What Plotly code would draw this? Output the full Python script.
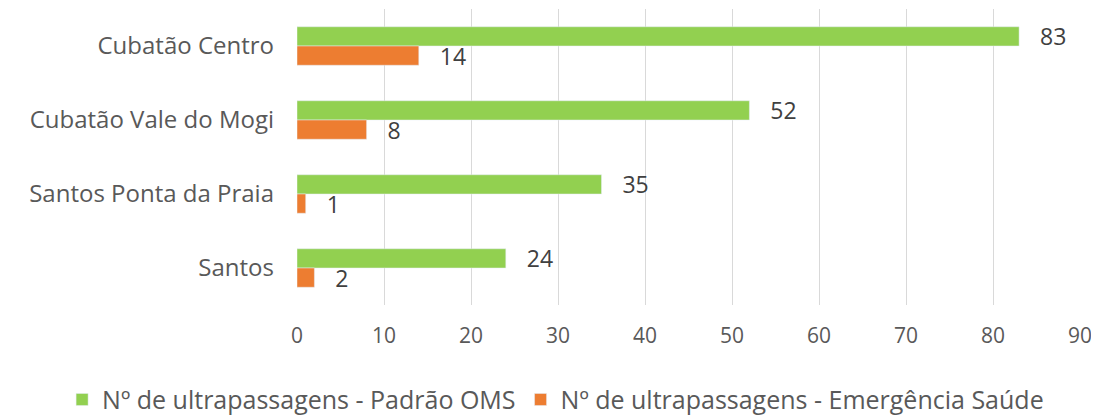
import plotly.graph_objects as go

categories = ["Cubatão Centro", "Cubatão Vale do Mogi", "Santos Ponta da Praia", "Santos"]
padrao_oms = [83, 52, 35, 24]
emergencia = [14, 8, 1, 2]
series_names = ["Nº de ultrapassagens - Padrão OMS", "Nº de ultrapassagens - Emergência Saúde"]
x_ticks = [0, 10, 20, 30, 40, 50, 60, 70, 80, 90]

fig = go.Figure()
fig.add_trace(go.Bar(
    y=categories, x=padrao_oms, orientation="h", name=series_names[0],
    marker=dict(color="#92D050"),
    texttemplate="\u00a0\u00a0\u00a0%{x}", textposition="outside", constraintext="none",
    textfont=dict(size=23, color="#404040"), cliponaxis=False,
))
fig.add_trace(go.Bar(
    y=categories, x=emergencia, orientation="h", name=series_names[1],
    marker=dict(color="#ED7D31"),
    texttemplate="\u00a0\u00a0\u00a0%{x}", textposition="outside", constraintext="none",
    textfont=dict(size=23, color="#404040"), cliponaxis=False,
))

# page body has an 8px default margin; margins compensate for it
fig.update_layout(
    width=1099, height=416,
    margin=dict(l=289, r=27, t=1, b=119),
    barmode="group", bargap=0.48, bargroupgap=0,
    plot_bgcolor="white", paper_bgcolor="white",
    font=dict(family="Open Sans", color="#595959", size=22),
    showlegend=True,
    legend=dict(orientation="h", x=-0.30, xanchor="left", y=-0.32, yanchor="middle",
                font=dict(size=25, color="#595959"), traceorder="normal",
                itemwidth=30),
)
fig.update_xaxes(range=[0, 90], tickvals=x_ticks, showgrid=True, gridcolor="#D9D9D9",
                 gridwidth=1, zeroline=False, showline=False, ticks="", automargin=False,
                 ticklabelstandoff=16,
                 tickfont=dict(size=21, color="#595959"))
fig.update_yaxes(autorange="reversed", showgrid=False, showline=False, ticks="",
                 automargin=False, ticklabelstandoff=22,
                 tickfont=dict(size=24, color="#595959"))

fig.write_html("out.html")
